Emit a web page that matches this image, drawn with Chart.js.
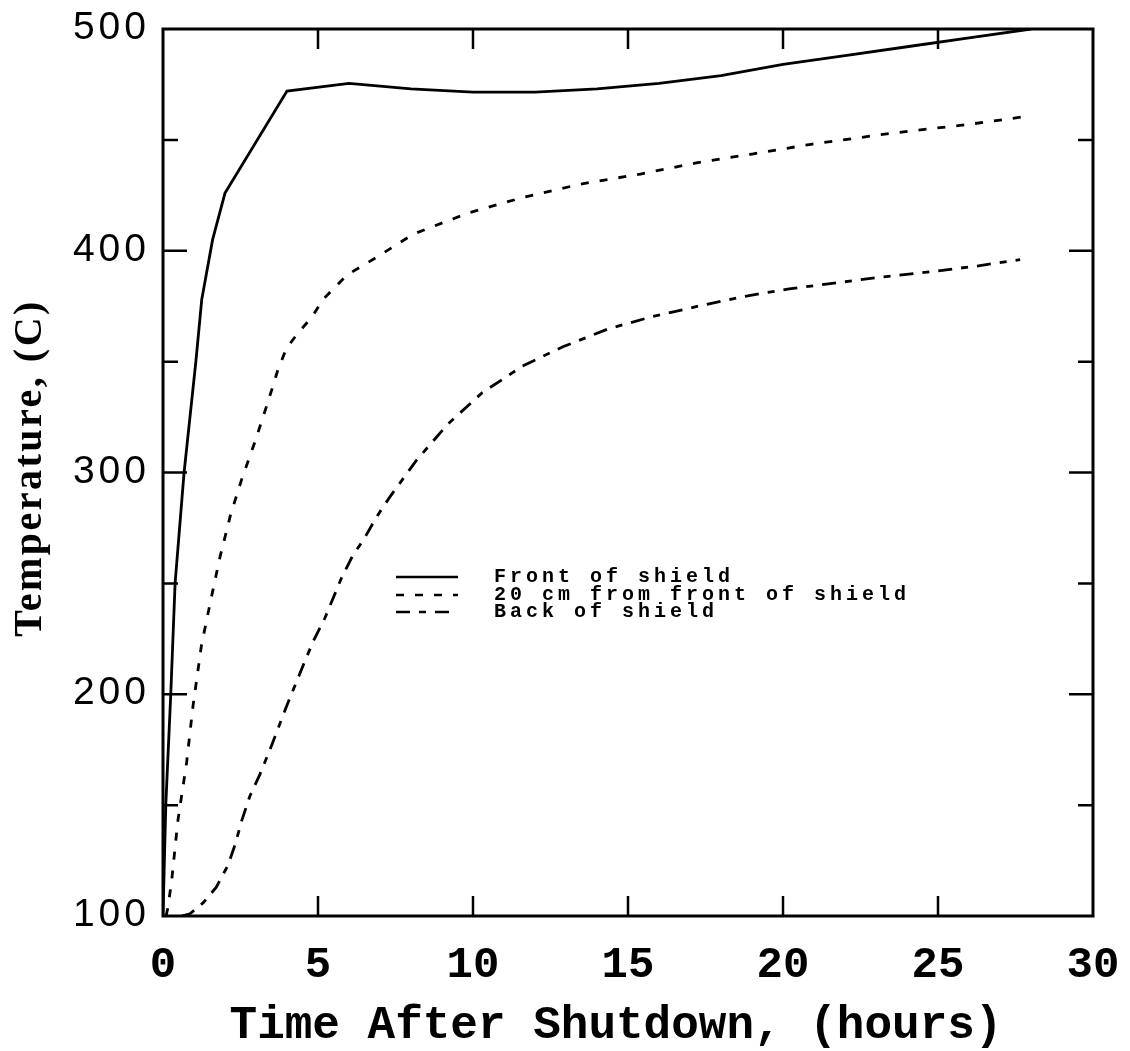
<!DOCTYPE html>
<html>
<head>
<meta charset="utf-8">
<script src="https://cdn.jsdelivr.net/npm/chart.js@4.4.1/dist/chart.umd.min.js"></script>
<style>
  html, body { margin: 0; padding: 0; background: #fff; }
</style>
</head>
<body>
<canvas id="temp-chart" width="1130" height="1051"></canvas>
<script>
// Front of shield
const frontHours = [0, 0.09, 0.25, 0.39, 0.68, 1.06, 1.25, 1.6, 2, 4, 6, 8, 10, 12, 14, 16, 18, 20, 22, 24, 26, 28];
const frontTemps = [100, 150, 200, 250, 300, 350, 378, 405, 426, 472, 475.5, 473, 471.5, 471.5, 473, 475.5, 479, 484, 488, 492, 496, 500];

// 20 cm from front of shield
const midHours = [0.1, 0.16, 0.28, 0.48, 0.76, 0.97, 1.24, 1.52, 1.84, 2.18, 2.54, 2.97, 3.39, 3.7, 3.98, 4.36, 4.8, 5.16, 5.93, 7.0, 8.07, 9.84, 11.6, 13.45, 15.4, 17.2, 19.0, 20.9, 23.5, 26.0, 27.8];
const midTemps = [100, 104, 116, 143, 169, 195, 222, 241, 262, 281, 297, 314, 332, 346, 356, 363, 370, 378, 389, 398, 407.5, 417, 424, 430, 434.6, 439.6, 443.6, 448, 453, 457, 460.5];

// Back of shield
const backHours = [0.6, 0.87, 1.3, 1.72, 2.1, 2.32, 2.54, 2.8, 3.13, 3.45, 3.98, 4.52, 4.85, 5.23, 5.76, 6.1, 6.5, 6.89, 7.32, 8.18, 9.2, 10.3, 11.6, 12.9, 14.35, 15.7, 17.2, 18.7, 20.2, 23.1, 24.8, 26.2, 27.65];
const backTemps = [100, 101, 106, 113, 123, 132, 143, 154, 164, 175, 194.4, 213, 224, 234.6, 252.5, 262, 270.4, 280, 289, 305.6, 322, 336, 348, 356.7, 364.7, 370, 374.8, 379.3, 382.8, 388, 390.6, 393, 396];

const seriesNames = ['Front of shield', '20 cm from front of shield', 'Back of shield'];
const xTicks = [0, 5, 10, 15, 20, 25, 30];
const yTicks = [100, 200, 300, 400, 500];
const yMinorTicks = [150, 250, 350, 450];
const xTitle = 'Time After Shutdown, (hours)';
const yTitle = 'Temperature, (C)';

function toPoints(xs, ys) {
  return xs.map((x, i) => ({ x, y: ys[i] }));
}

const dashes = [[], [8, 11], [14, 9, 7, 9]];

// frame, inward ticks, labels and legend
const plotFrame = {
  id: 'plotFrame',
  afterDraw(chart) {
    const { ctx, chartArea: a, scales } = chart;
    const xs = scales.x;
    const ys = scales.y;
    ctx.save();
    ctx.strokeStyle = '#000';
    ctx.fillStyle = '#000';
    ctx.lineCap = 'butt';

    ctx.lineWidth = 3;
    ctx.strokeRect(a.left, a.top, a.right - a.left, a.bottom - a.top);

    ctx.lineWidth = 2.5;
    ctx.beginPath();
    xTicks.slice(1, -1).forEach((v) => {
      const px = xs.getPixelForValue(v);
      ctx.moveTo(px, a.bottom); ctx.lineTo(px, a.bottom - 20);
      ctx.moveTo(px, a.top); ctx.lineTo(px, a.top + 20);
    });
    const yMarks = yTicks.slice(1, -1).map((v) => [v, 24]).concat(yMinorTicks.map((v) => [v, 15]));
    yMarks.forEach(([v, len]) => {
      const py = ys.getPixelForValue(v);
      ctx.moveTo(a.left, py); ctx.lineTo(a.left + len, py);
      ctx.moveTo(a.right, py); ctx.lineTo(a.right - len, py);
    });
    ctx.stroke();

    // x tick labels
    ctx.font = 'bold 44px "Liberation Mono"';
    ctx.textAlign = 'center';
    ctx.textBaseline = 'middle';
    xTicks.forEach((v) => {
      ctx.fillText(String(v), xs.getPixelForValue(v), 966);
    });

    // y tick labels
    ctx.font = '39px "Liberation Sans"';
    ctx.textAlign = 'right';
    ctx.textBaseline = 'alphabetic';
    ctx.letterSpacing = '4px';
    yTicks.forEach((v) => {
      ctx.fillText(String(v), 150, ys.getPixelForValue(v) + 10);
    });
    ctx.letterSpacing = '0px';

    // axis titles
    ctx.font = 'bold 46px "Liberation Mono"';
    ctx.textAlign = 'center';
    ctx.textBaseline = 'middle';
    ctx.fillText(xTitle, 616, 1026);

    ctx.save();
    ctx.translate(31, 468);
    ctx.rotate(-Math.PI / 2);
    ctx.font = 'bold 40px "Liberation Serif"';
    ctx.letterSpacing = '2.5px';
    ctx.fillText(yTitle, 0, 0);
    ctx.restore();

    // legend
    const rows = [577, 595, 612];
    ctx.font = 'bold 20px "Liberation Mono"';
    ctx.textAlign = 'left';
    ctx.letterSpacing = '4px';
    chart.data.datasets.forEach((ds, i) => {
      ctx.lineWidth = 2.5;
      ctx.setLineDash(ds.borderDash || []);
      ctx.beginPath();
      ctx.moveTo(396, rows[i]);
      ctx.lineTo(458, rows[i]);
      ctx.stroke();
      ctx.setLineDash([]);
      ctx.fillText(ds.label, 494, rows[i]);
    });
    ctx.restore();
  },
};

new Chart(document.getElementById('temp-chart'), {
  type: 'line',
  data: {
    datasets: [
      { label: seriesNames[0], data: toPoints(frontHours, frontTemps), borderDash: dashes[0] },
      { label: seriesNames[1], data: toPoints(midHours, midTemps), borderDash: dashes[1] },
      { label: seriesNames[2], data: toPoints(backHours, backTemps), borderDash: dashes[2] },
    ].map((ds) => ({
      ...ds,
      borderColor: '#000',
      borderWidth: 2.8,
      pointRadius: 0,
      tension: 0,
      fill: false,
    })),
  },
  options: {
    responsive: false,
    animation: false,
    devicePixelRatio: 1,
    layout: { padding: { left: 163, right: 37, top: 29, bottom: 135 } },
    plugins: { legend: { display: false }, tooltip: { enabled: false } },
    scales: {
      x: { type: 'linear', min: 0, max: 30, display: false },
      y: { type: 'linear', min: 100, max: 500, display: false },
    },
  },
  plugins: [plotFrame],
});
</script>
</body>
</html>
